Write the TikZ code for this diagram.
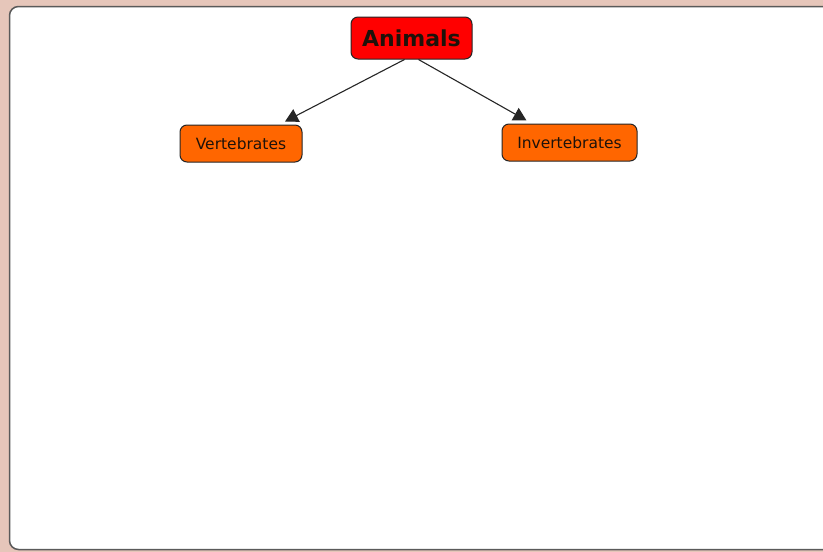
\documentclass[tikz,border=0pt]{standalone}
\usepackage{fontspec}
\setmainfont{DejaVu Sans}
\usetikzlibrary{arrows.meta,calc}
\definecolor{bgpink}{HTML}{E6C6BA}
\definecolor{framegray}{HTML}{5A5A5A}
\definecolor{nodered}{HTML}{FF0000}
\definecolor{nodeorange}{HTML}{FF6600}
\definecolor{textdark}{HTML}{1E120A}
\tikzset{
  concept/.style={draw=black!85, line width=1pt, rounded corners=7pt, inner sep=0pt, text=textdark},
  mainconcept/.style={concept, fill=nodered, minimum width=121pt, minimum height=42pt, font=\fontsize{22}{24}\selectfont\bfseries},
  subconcept/.style={concept, fill=nodeorange, minimum height=37pt, font=\fontsize{15.5}{17}\selectfont},
  link/.style={draw=black!85, line width=1.1pt, -{Triangle[length=13pt,width=14pt]}}
}
\begin{document}
\begin{tikzpicture}[x=1pt,y=1pt]
  \useasboundingbox (0,0) rectangle (823,-552);
  \fill[bgpink] (0,0) rectangle (823,-552);
  \begin{scope}
    \clip (0,0) rectangle (823,-552);
    \draw[fill=white, draw=framegray, line width=1.5pt, rounded corners=9pt] (9.5,-6.5) rectangle (840,-549.5);
  \end{scope}
  \node[mainconcept] (A) at (411.5,-38) {Animals};
  \node[subconcept, minimum width=122pt] (V) at (241,-143.5) {Vertebrates};
  \node[subconcept, minimum width=135pt] (I) at (569.5,-142.5) {Invertebrates};
  \draw[link] ($(A.south)+(-7,0)$) -- ($(V.north)+(44,3)$);
  \draw[link] ($(A.south)+(7,0)$) -- ($(I.north)+(-43,3)$);
\end{tikzpicture}
\end{document}
